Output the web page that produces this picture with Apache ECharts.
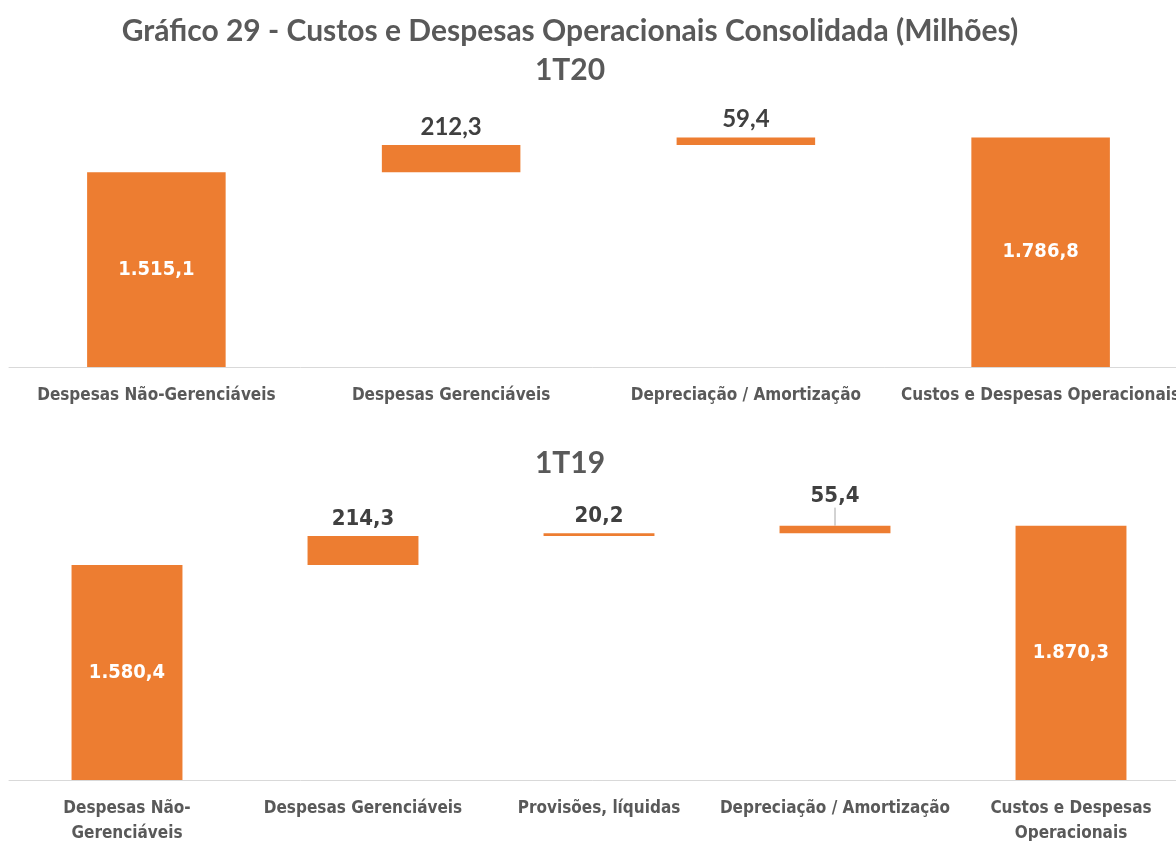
<!DOCTYPE html>
<html style="height: 100%" lang="pt">
<head>
  <meta charset="utf-8">
  <script type="text/javascript" src="https://cdn.jsdelivr.net/npm/echarts@6/dist/echarts.min.js"></script>
</head>
<body style="height: 100%; margin: 0; background: #fff">
  <div id="container" style="width: 1176px; height: 841px"></div>
  <script type="text/javascript">
    // 1T20
    var cats2020 = ['Despesas Não-Gerenciáveis', 'Despesas Gerenciáveis', 'Depreciação / Amortização', 'Custos e Despesas Operacionais'];
    var vals2020 = [1515.1, 212.3, 59.4, 1786.8];
    // 1T19
    var cats2019 = ['Despesas Não-\nGerenciáveis', 'Despesas Gerenciáveis', 'Provisões, líquidas', 'Depreciação / Amortização', 'Custos e Despesas\nOperacionais'];
    var vals2019 = [1580.4, 214.3, 20.2, 55.4, 1870.3];

    var orange = '#ED7D31';
    var grey = '#595959';
    var narrow = '"Liberation Sans Narrow", "DejaVu Sans Condensed", "Liberation Sans", sans-serif';
    var calibriLike = 'Lato, "Open Sans", sans-serif';

    // formato 1.515,1
    function fmt(v) {
      var parts = v.toFixed(1).split('.');
      var inteiro = parts[0].replace(/\B(?=(\d{3})+(?!\d))/g, '.');
      return inteiro + ',' + parts[1];
    }

    // base invisível da cascata: primeiro e último começam em 0
    function bases(vals) {
      var out = [];
      var acc = 0;
      for (var i = 0; i < vals.length; i++) {
        if (i === 0 || i === vals.length - 1) {
          out.push(0);
        } else {
          out.push(acc);
        }
        if (i < vals.length - 1) acc += vals[i];
      }
      return out;
    }

    function visible(vals, topFont, topSize) {
      return vals.map(function(v, i) {
        var ends = (i === 0 || i === vals.length - 1);
        return {
          value: v,
          label: ends ? {
            position: 'inside',
            color: '#fff',
            fontFamily: narrow,
            fontSize: 20
          } : {
            position: 'top',
            distance: 6,
            color: '#404040',
            fontFamily: topFont,
            fontSize: topSize
          }
        };
      });
    }

    var myChart = echarts.init(document.getElementById('container'), null, { renderer: 'canvas' });

    var titleStyle = { fontFamily: calibriLike, fontSize: 30, fontWeight: 'bold', color: grey };

    var option = {
      animation: false,
      title: [{
        text: 'Gráfico 29 - Custos e Despesas Operacionais Consolidada (Milhões)',
        left: 565, top: 11, textAlign: 'center',
        textStyle: titleStyle
      }, {
        text: '1T20',
        left: 565, top: 50, textAlign: 'center',
        textStyle: titleStyle
      }, {
        text: '1T19',
        left: 565, top: 443, textAlign: 'center',
        textStyle: titleStyle
      }],
      grid: [
        { left: 9, right: -12, top: 110, bottom: 474, outerBoundsMode: 'none', containLabel: false },
        { left: 9, right: -13, top: 508, bottom: 61, outerBoundsMode: 'none', containLabel: false }
      ],
      xAxis: [{
        type: 'category', gridIndex: 0, data: cats2020,
        axisTick: { show: false },
        axisLine: { lineStyle: { color: '#d9d9d9' } },
        axisLabel: { interval: 0, margin: 20, color: grey, fontFamily: narrow, fontSize: 17, fontWeight: 'bold' }
      }, {
        type: 'category', gridIndex: 1, data: cats2019,
        axisTick: { show: false },
        axisLine: { lineStyle: { color: '#d9d9d9' } },
        axisLabel: { interval: 0, margin: 16, lineHeight: 25, color: grey, fontFamily: narrow, fontSize: 17, fontWeight: 'bold' }
      }],
      yAxis: [
        { type: 'value', gridIndex: 0, min: 0, max: 2000, show: false },
        { type: 'value', gridIndex: 1, min: 0, max: 2000, show: false }
      ],
      series: [{
        type: 'bar', xAxisIndex: 0, yAxisIndex: 0, stack: 'a', barWidth: '47%',
        itemStyle: { color: 'transparent' },
        data: bases(vals2020)
      }, {
        type: 'bar', xAxisIndex: 0, yAxisIndex: 0, stack: 'a', barWidth: '47%',
        itemStyle: { color: orange },
        label: { show: true, fontWeight: 'bold', formatter: function(p) { return fmt(p.value); } },
        data: visible(vals2020, calibriLike, 24)
      }, {
        type: 'bar', xAxisIndex: 1, yAxisIndex: 1, stack: 'b', barWidth: '47%',
        itemStyle: { color: 'transparent' },
        data: bases(vals2019)
      }, {
        type: 'bar', xAxisIndex: 1, yAxisIndex: 1, stack: 'b', barWidth: '47%',
        itemStyle: { color: orange },
        label: { show: true, fontWeight: 'bold', formatter: function(p) { return fmt(p.value); } },
        labelLayout: function(params) {
          if (params.dataIndex === 3) return { dy: -12 };
        },
        data: visible(vals2019, narrow, 22).map(function(d, i) {
          if (i === 3) d.labelLine = { show: true, lineStyle: { color: '#a6a6a6', width: 1 } };
          return d;
        })
      }]
    };

    myChart.setOption(option);
  </script>
</body>
</html>
